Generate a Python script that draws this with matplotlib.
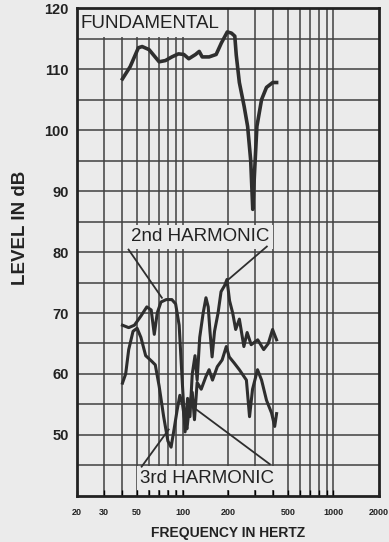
import numpy as np
import matplotlib
matplotlib.use('Agg')
import matplotlib.pyplot as plt

# fundamental response (Hz, dB)
fund_freq = [40, 45, 51, 54, 60, 70, 77, 85, 94, 102, 110, 122, 129, 135, 150, 167, 181,
             198, 211, 222, 227, 238, 256, 270, 283, 292, 300, 311, 334, 360, 396, 420]
fund_db = [108.4, 110.4, 113.5, 113.7, 113.2, 111.2, 111.4, 112, 112.5, 112.4, 111.7, 112.4,
           112.9, 112, 112, 112.4, 114.3, 116.1, 115.9, 115.4, 112.3, 107.8, 103.9, 100.6,
           95, 87, 93, 100.6, 105, 107, 107.8, 107.8]

# 2nd harmonic
h2_freq = [40, 44, 48, 53, 58, 62, 65, 68, 72, 78, 85, 90, 95, 100, 104, 108, 112, 116, 121,
           125, 130, 137, 143, 148, 152, 157, 163, 172, 180, 190, 197, 205, 215, 225, 238,
           255, 268, 285, 315, 345, 370, 395, 420]
h2_db = [68, 67.6, 68, 69.5, 71, 70.5, 66.5, 70, 71.8, 72.2, 72.2, 71.5, 68, 58, 50.5, 56,
         53, 60, 63, 59, 66, 70, 72.5, 71, 67, 62.8, 67, 70, 73.5, 74.5, 75.5, 72, 70, 67.3,
         69, 64.5, 66.8, 64.8, 65.6, 64, 65, 67.3, 65.6]

# 3rd harmonic
h3_freq = [40, 42, 44, 47, 50, 53, 57, 60, 63, 66, 70, 75, 80, 84, 88, 92, 96, 100, 104, 107,
           111, 116, 120, 125, 133, 143, 150, 158, 170, 183, 195, 204, 220, 238, 265, 278,
           291, 314, 334, 360, 389, 408, 420]
h3_db = [58.5, 60, 64, 67, 67.5, 66, 63, 62.5, 62, 61.5, 58, 53, 49, 48, 51, 54, 56.5, 55,
         52, 51, 54.7, 57, 52.5, 58.6, 57.5, 59.6, 60.7, 59, 61.2, 62.3, 64.5, 62.8, 61.8,
         60.7, 59, 53, 57.5, 60.7, 59, 55.7, 53.6, 51.4, 53.5]

y_ticks = [50, 60, 70, 80, 90, 100, 110, 120]
x_ticks = [20, 30, 50, 100, 200, 500, 1000, 2000]

# label leader lines: (start, end) in (Hz, dB)
h2_leaders = [((43.9, 80.4), (73, 72.5)), ((362, 80.9), (195, 75.2))]
h3_leaders = [((53.6, 44.8), (81, 50.9)), ((379, 45.2), (123, 54.2))]

bg = '#ebebeb'
ink = '#2e2e2e'

fig = plt.figure(figsize=(3.89, 5.42), dpi=100, facecolor=bg)
ax = fig.add_axes([0.198, 0.085, 0.776, 0.9])
ax.set_facecolor(bg)

ax.set_xscale('log')
ax.set_xlim(20, 2000)
ax.set_ylim(40, 120)

# grid
for y in np.arange(45, 120, 5):
    ax.axhline(y, color='#404040', lw=1.1, zorder=1)
grid_x = list(range(30, 100, 10)) + list(range(100, 1000, 100)) + [1000]
for x in grid_x:
    ax.axvline(x, color='#404040', lw=1.1, zorder=1)

ax.plot(fund_freq, fund_db, color=ink, lw=2.6, zorder=3, solid_joinstyle='round')
ax.plot(h2_freq, h2_db, color=ink, lw=2.2, zorder=3, solid_joinstyle='round')
ax.plot(h3_freq, h3_db, color=ink, lw=2.2, zorder=3, solid_joinstyle='round')

for (p0, p1) in h2_leaders + h3_leaders:
    ax.plot([p0[0], p1[0]], [p0[1], p1[1]], color=ink, lw=1.3, zorder=4)

# labels sit above the grid but under the frame
lab_font = dict(family='Liberation Sans', fontsize=13.5, color='#222222', zorder=2)
box = dict(facecolor=bg, edgecolor='none', pad=2.5)
ax.text(21.2, 117.5, 'FUNDAMENTAL', ha='left', va='center',
        bbox=dict(facecolor=bg, edgecolor='none', pad=4), **lab_font)
ax.text(131, 82.5, '2nd HARMONIC', ha='center', va='center', bbox=box, **lab_font)
ax.text(146, 42.9, '3rd HARMONIC', ha='center', va='center', bbox=box, **lab_font)

for s in ax.spines.values():
    s.set_linewidth(2)
    s.set_color('#222222')
    s.set_zorder(6)

ax.set_yticks(y_ticks)
ax.set_yticklabels([str(v) for v in y_ticks], fontsize=10.5, fontweight='bold',
                   family='Liberation Sans', color='#222222')
ax.set_xticks(x_ticks)
ax.set_xticklabels([str(v) for v in x_ticks], fontsize=6.5, fontweight='bold',
                   family='Liberation Sans', color='#222222')
ax.xaxis.set_minor_locator(matplotlib.ticker.FixedLocator(grid_x))
ax.xaxis.set_minor_formatter(matplotlib.ticker.NullFormatter())
ax.tick_params(axis='y', length=0, pad=6)
ax.tick_params(axis='x', which='both', direction='in', length=4, width=1, pad=9)

ax.set_ylabel('LEVEL IN dB', fontsize=13.5, fontweight='bold', family='Liberation Sans',
              color='#222222')
ax.yaxis.set_label_coords(-0.16, 0.55)
ax.set_xlabel('FREQUENCY IN HERTZ', fontsize=10, fontweight='bold', family='Liberation Sans',
              color='#222222', labelpad=6)

fig.savefig('out.png', dpi=100, facecolor=bg)
